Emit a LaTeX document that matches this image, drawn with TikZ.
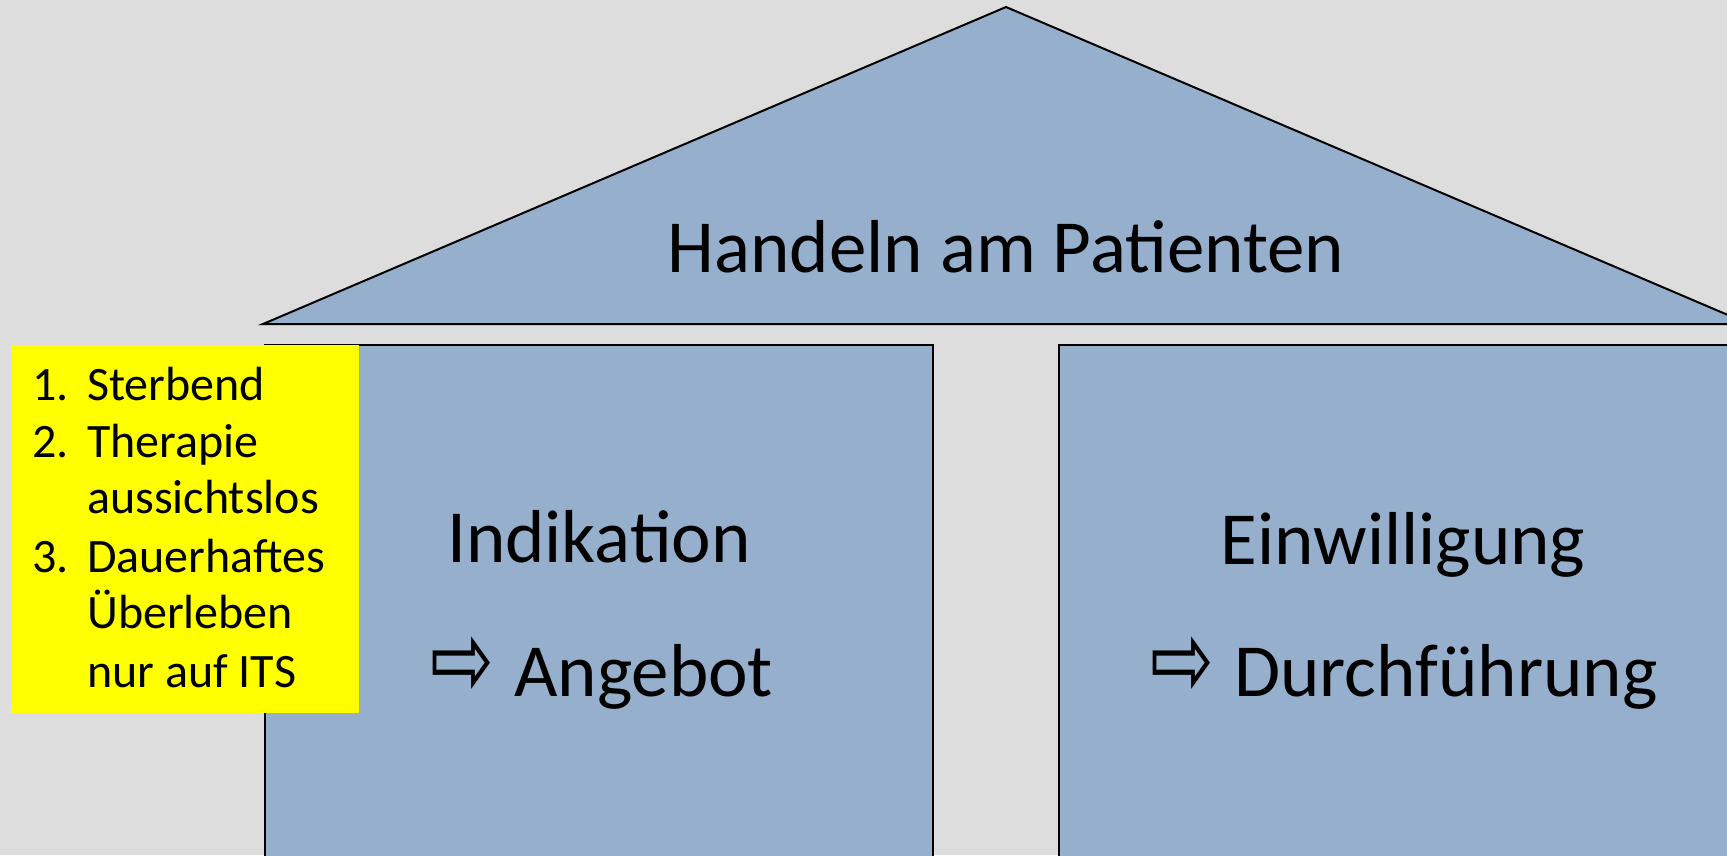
\documentclass[tikz,border=0pt]{standalone}
\usepackage{fontspec}
\setmainfont{Carlito}
\newfontfamily\symfont{DejaVu Sans}
\definecolor{bg}{HTML}{DDDDDD}
\definecolor{house}{HTML}{95AFCC}
\definecolor{note}{HTML}{FFFF00}
\newcommand{\hollowarrow}{\makebox[84pt][l]{\scalebox{1}[1.4]{\symfont\fontsize{76}{86}\selectfont ⇨}}}
\tikzset{
  part/.style={draw=black, line width=2pt, fill=house},
  bigtext/.style={inner sep=0pt, font=\fontsize{75}{90}\selectfont},
  listtext/.style={inner sep=0pt, anchor=base west, font=\fontsize{48}{58}\selectfont},
}
\begin{document}
\begin{tikzpicture}[x=1pt, y=-1pt]
\useasboundingbox (0,0) rectangle (1727,855);
\clip (0,0) rectangle (1727,855);
\fill[bg] (0,0) rectangle (1727,855);

% roof
\draw[part, line join=miter] (263,324) -- (1006,7) -- (1749,324) -- cycle;
\node[bigtext, anchor=base] (roof) at (1006,272) {Handeln am Patienten};

% the two pillars
\draw[part] (265,345) rectangle (933,880);
\draw[part] (1059,345) rectangle (1740,880);

\node[bigtext, anchor=base] (ind) at (599,562) {Indikation};
\node[bigtext, anchor=base west] (ang) at (430,696) {\hollowarrow Angebot};
\node[bigtext, anchor=base] (ein) at (1403,564) {Einwilligung};
\node[bigtext, anchor=base west] (durch) at (1150,696) {\hollowarrow Durchführung};

% criteria note
\fill[note] (11,345) rectangle (359,713);
\node[listtext] (n1) at (32,400) {1.};
\node[listtext] (t1) at (87,400) {Sterbend};
\node[listtext] (n2) at (32,457) {2.};
\node[listtext] (t2) at (87,457) {Therapie};
\node[listtext] (t2b) at (87,513) {aussichtslos};
\node[listtext] (n3) at (32,572) {3.};
\node[listtext] (t3) at (87,572) {Dauerhaftes};
\node[listtext] (t3b) at (87,628) {Überleben};
\node[listtext] (t3c) at (87,687) {nur auf ITS};
\end{tikzpicture}
\end{document}
